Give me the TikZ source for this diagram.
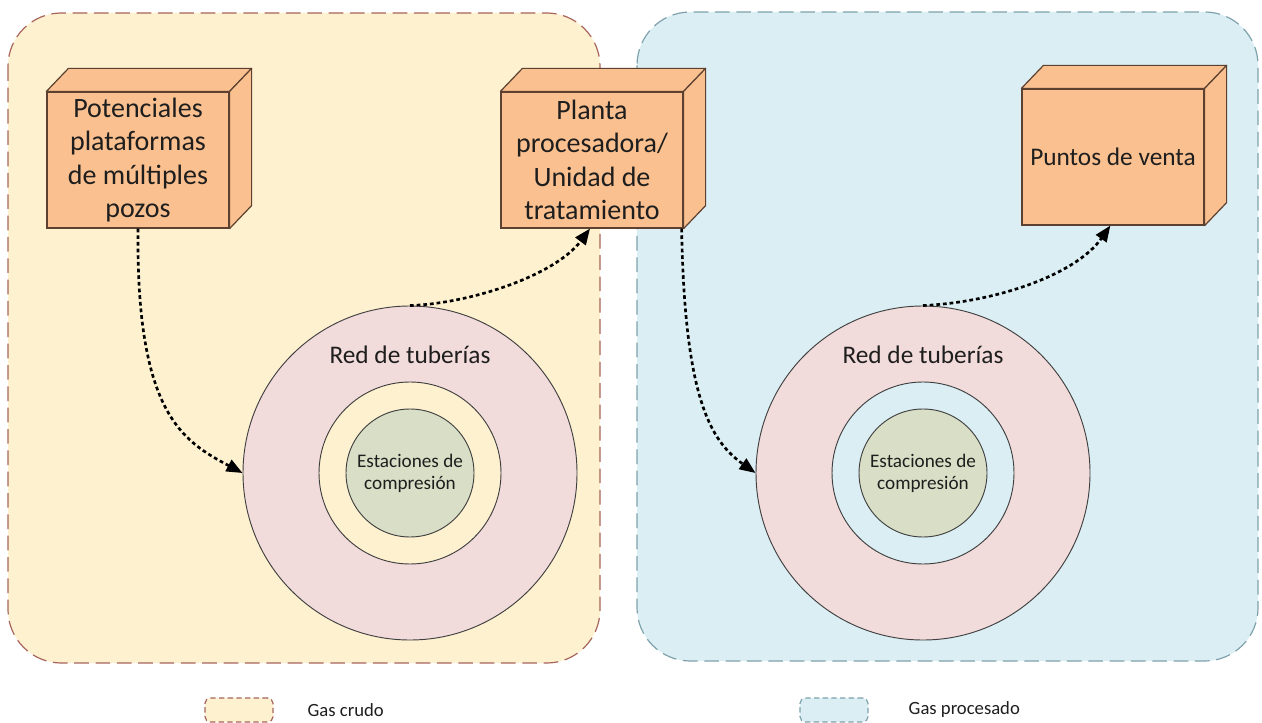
\documentclass[tikz,border=0pt]{standalone}
\usepackage{fontspec}
\setmainfont{Carlito}
\usetikzlibrary{arrows.meta}
\definecolor{panelYel}{HTML}{FDF1CF}
\definecolor{panelYelLine}{HTML}{A8655C}
\definecolor{panelBlu}{HTML}{DAEEF3}
\definecolor{panelBluLine}{HTML}{7FA2AC}
\definecolor{boxFill}{HTML}{FAC08F}
\definecolor{boxLine}{HTML}{5C4030}
\definecolor{pipeFill}{HTML}{F2DCDB}
\definecolor{compFill}{HTML}{D8DFC6}
\definecolor{ink}{HTML}{1E1E1E}
\newcommand{\cubefaces}[1]{%
  \filldraw[cubeface] (#1.north west) -- ++(22,-23) -- ([shift={(22,-23)}]#1.north east) -- (#1.north east) -- cycle;
  \filldraw[cubeface] (#1.north east) -- ++(22,-23) -- ([shift={(22,-23)}]#1.south east) -- (#1.south east) -- cycle;}
\begin{document}
\begin{tikzpicture}[x=0.75pt,y=-0.75pt,
  panel/.style={line width=0.9pt, dash pattern=on 11pt off 5pt, rounded corners=40pt},
  cubebox/.style={draw=boxLine, fill=boxFill, line width=0.9pt, minimum width=136.5pt, minimum height=102pt, align=center, font=\fontsize{21}{25}\selectfont, text=ink, inner sep=1pt},
  cubeface/.style={draw=boxLine, fill=boxFill, line width=0.9pt, line join=round},
  ring/.style={circle, draw=black!75, line width=0.7pt, inner sep=0pt},
  flow/.style={line width=2pt, dash pattern=on 2.8pt off 2.2pt, -{Triangle[length=12pt,width=9.5pt]}, black},
  legendbox/.style={line width=0.9pt, dash pattern=on 4pt off 2.5pt, rounded corners=4pt, minimum width=51pt, minimum height=18pt},
  legendtext/.style={anchor=west, font=\fontsize{14}{16}\selectfont, text=ink},
  ringtitle/.style={font=\fontsize{19}{22}\selectfont, text=ink},
  ringcore/.style={ring, fill=compFill, minimum size=96pt, align=center, font=\fontsize{14.4}{16.5}\selectfont, text=ink}
]
\useasboundingbox (0,0) rectangle (1262,723);

% panels
\draw[panel, draw=panelYelLine, fill=panelYel] (8,13) rectangle (600,663);
\draw[panel, draw=panelBluLine, fill=panelBlu] (637,12) rectangle (1258,661);

% left rings
\node[ring, fill=pipeFill, minimum size=250.5pt] (oL) at (410,473) {};
\node[ring, fill=panelYel, minimum size=136.5pt] (mL) at (410,473) {};
\node[ringcore] (iL) at (410,473) {Estaciones de\\compresión};
\node[ringtitle] (tL) at (410,355) {Red de tuberías};

% right rings
\node[ring, fill=pipeFill, minimum size=250.5pt] (oR) at (923,473) {};
\node[ring, fill=panelBlu, minimum size=136.5pt] (mR) at (923,473) {};
\node[ringcore] (iR) at (923,473) {Estaciones de\\compresión};
\node[ringtitle] (tR) at (923,355) {Red de tuberías};

% boxes
\node[cubebox] (b1) at (138,160) {Potenciales\\plataformas\\de múltiples\\pozos};
\cubefaces{b1}
\node[cubebox] (b2) at (592,160) {Planta\\procesadora/\\Unidad de\\tratamiento};
\cubefaces{b2}
\node[cubebox, font=\fontsize{19}{23}\selectfont] (b3) at (1113,157) {Puntos de venta};
\cubefaces{b3}

% flows
\draw[flow] (b1.south) .. controls +(-2,185) and +(-60,-32) .. (oL.west);
\draw[flow] (oL.north) .. controls +(60,-2) and +(-35,47) .. ([xshift=-1.5pt]b2.south);
\draw[flow] ([xshift=-1.5pt]b2.south east) .. controls +(3,170) and +(-45,-32) .. (oR.west);
\draw[flow] (oR.north) .. controls +(70,-3) and +(-35,50) .. ([xshift=-2pt]b3.south);

% legend
\node[legendbox, draw=panelYelLine, fill=panelYel] (lg1) at (239,710) {};
\node[legendtext] (lt1) at (303,710) {Gas crudo};
\node[legendbox, draw=panelBluLine, fill=panelBlu] (lg2) at (834,710) {};
\node[legendtext] (lt2) at (904,710) {Gas procesado};
\end{tikzpicture}
\end{document}
